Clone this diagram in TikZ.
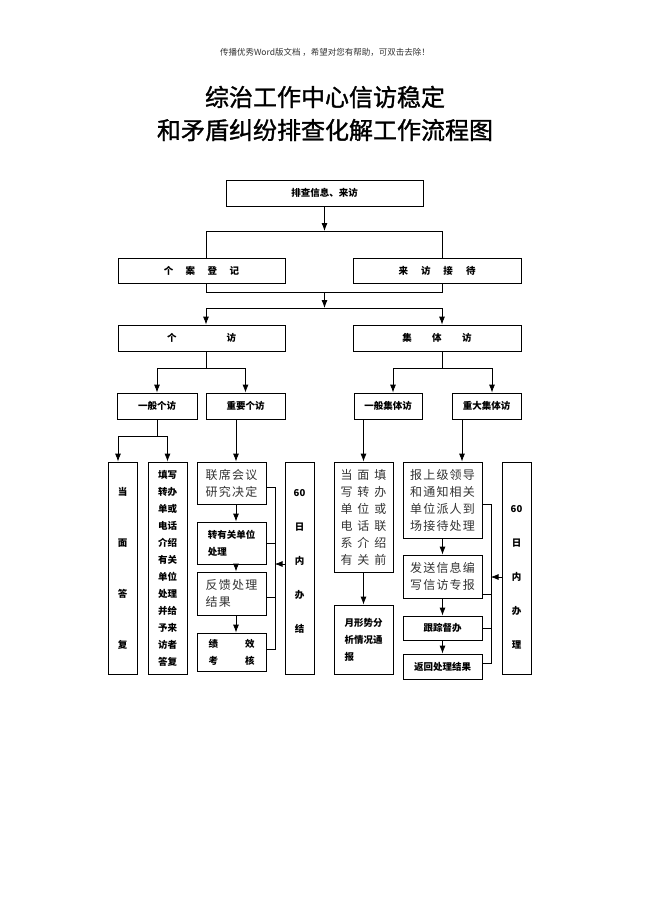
\documentclass[tikz,border=0pt]{standalone}
\usepackage{fontspec}
\usetikzlibrary{arrows.meta}
\setmainfont{Noto Sans CJK SC}
\newfontfamily\titlefont{Noto Sans CJK SC}[FakeBold=1.3]
\newfontfamily\songfont{Noto Sans CJK SC}[LetterSpace=10]
\newfontfamily\songwide{Noto Sans CJK SC}[LetterSpace=40]
\newcommand{\boxbf}{\fontsize{9.5}{17}\selectfont\bfseries}
\newcommand{\songtxt}{\songfont\fontsize{12}{17}\selectfont}
\tikzset{
    box/.style={draw,line width=0.8pt,inner sep=0pt},
    bt/.style={font=\boxbf,align=center},
    song/.style={font=\songtxt,align=left,text=black!80},
}
\begin{document}
\begin{tikzpicture}[x=1pt,y=-1pt,line width=0.8pt,>={Latex[length=8pt,width=6pt]}]
        \useasboundingbox (0,0) rectangle (650,920);
        %% header and title
        \node[font=\fontsize{8.5}{10}\selectfont,text=black!80] (wm) at (325,52) {传播优秀Word版文档 ，希望对您有帮助，可双击去除！};
        \node[font=\titlefont\fontsize{24}{33}\selectfont,align=center] (title) at (325,113.5) {综治工作中心信访稳定\\和矛盾纠纷排查化解工作流程图};
        %% upper boxes
        \node[box,bt,minimum width=197pt,minimum height=26pt] (paicha) at (324.5,193) {排查信息、来访};
        \node[box,bt,minimum width=167pt,minimum height=25pt] (dengji) at (201.5,270.5) {个\hspace{12.5pt}案\hspace{12.5pt}登\hspace{12.5pt}记};
        \node[box,bt,minimum width=168pt,minimum height=25pt] (jiedai) at (437,270.5) {来\hspace{13pt}访\hspace{13pt}接\hspace{13pt}待};
        \node[box,bt,minimum width=167pt,minimum height=26pt] (gefang) at (201.5,338) {个\hspace{50pt}访};
        \node[box,bt,minimum width=168pt,minimum height=26pt] (jiti) at (437,338) {集\hspace{20.5pt}体\hspace{20.5pt}访};
        \node[box,bt,minimum width=80pt,minimum height=26pt] (yiban) at (157,406) {一般个访};
        \node[box,bt,minimum width=79pt,minimum height=26pt] (zhongyao) at (245.5,406) {重要个访};
        \node[box,bt,minimum width=68pt,minimum height=26pt] (yibanjiti) at (388,406) {一般集体访};
        \node[box,bt,minimum width=69pt,minimum height=26pt] (zhongda) at (486.5,406) {重大集体访};
        %% individual visits
        \node[box,bt,font=\fontsize{9.5}{51}\selectfont\bfseries,minimum width=29pt,minimum height=212pt] (dangmian) at (122.5,568) {当\\面\\答\\复};
        \node[box,bt,minimum width=39pt,minimum height=212pt] (tianxie) at (167.5,568) {填写\\转办\\单或\\电话\\介绍\\有关\\单位\\处理\\并给\\予来\\访者\\答复};
        \node[box,song,minimum width=69pt,minimum height=42pt] (lianxi) at (231.5,483) {联席会议\\研究决定};
        \node[box,bt,align=left,minimum width=69pt,minimum height=42pt] (zhuan) at (231.5,543) {转有关单位\\处理};
        \node[box,song,minimum width=69pt,minimum height=43pt] (fankui) at (231.5,593.5) {反馈处理\\结果};
        \node[box,bt,minimum width=69pt,minimum height=38pt] (jixiao) at (231.5,652) {绩\hspace{27pt}效\\考\hspace{27pt}核};
        \node[box,minimum width=29pt,minimum height=212pt] (banjie) at (299.5,568) {};
        \node[bt,font=\fontsize{9.5}{34}\selectfont\bfseries] (banjie-t) at (299.5,561) {60\\日\\内\\办\\结};
        %% group visits
        \node[box,song,font=\songwide\fontsize{12}{17}\selectfont,minimum width=59pt,minimum height=110pt] (tianxieb) at (363.5,517) {当面填\\写转办\\单位或\\电话联\\系介绍\\有关前};
        \node[box,bt,align=left,minimum width=59pt,minimum height=69pt] (yuexing) at (363.5,639.5) {月形势分\\析情况通\\报};
        \node[box,song,minimum width=79pt,minimum height=76pt] (baoshang) at (442.5,500) {报上级领导\\和通知相关\\单位派人到\\场接待处理};
        \node[box,song,minimum width=79pt,minimum height=43pt] (fasong) at (442.5,576.5) {发送信息编\\写信访专报};
        \node[box,bt,minimum width=79pt,minimum height=24pt] (genzong) at (442.5,628) {跟踪督办};
        \node[box,bt,minimum width=79pt,minimum height=25pt] (fanhui) at (442.5,666.5) {返回处理结果};
        \node[box,minimum width=29pt,minimum height=212pt] (banli) at (516.5,568) {};
        \node[bt,font=\fontsize{9.5}{34}\selectfont\bfseries] (banli-t) at (516.5,577.5) {60\\日\\内\\办\\理};
        %% connectors, top part
        \coordinate (s1l) at (206,231);
        \coordinate (s1r) at (442,231);
        \coordinate (s2l) at (206,292);
        \coordinate (s2r) at (442,292);
        \coordinate (s3l) at (206,308);
        \coordinate (s3r) at (442,308);
        \draw[->] (paicha) -- (paicha |- s1l);
        \draw (dengji.north -| s1l) |- (s1r) -- (jiedai.north -| s1r);
        \draw (dengji.south -| s2l) |- (s2r) -- (jiedai.south -| s2r);
        \draw[->] (paicha.south |- s2l) -- (paicha.south |- s3l);
        \draw (s3l) -- (s3r);
        \draw[->] (s3l) -- (gefang.north -| s3l);
        \draw[->] (s3r) -- (jiti.north -| s3r);
        %% connectors, second split
        \coordinate (s4l) at (206,368);
        \coordinate (s4r) at (442,368);
        \draw (gefang.south -| s4l) -- (s4l);
        \draw[->] (s4l) -| (yiban);
        \draw[->] (s4l) -| (zhongyao);
        \draw (jiti.south -| s4r) -- (s4r);
        \draw[->] (s4r) -| ([xshift=5pt]yibanjiti.north);
        \draw[->] (s4r) -| ([xshift=5.5pt]zhongda.north);
        %% left columns
        \coordinate (s5) at (157,436);
        \coordinate (colA) at (236,0);
        \draw (yiban) -- (s5);
        \draw[->] (s5) -| ([xshift=-4.5pt]dangmian.north);
        \draw[->] (s5) -| (tianxie);
        \draw[->] (zhongyao.south -| colA) -- (lianxi.north -| colA);
        \draw[->] (lianxi.south -| colA) -- (zhuan.north -| colA);
        \draw[->] (zhuan.south -| colA) -- (fankui.north -| colA);
        \draw[->] (fankui.south -| colA) -- (jixiao.north -| colA);
        \draw ([yshift=-4pt]lianxi.east) -- ++(9,0) |- ([yshift=3pt]jixiao.east);
        \draw (zhuan.east) -- ++(9,0);
        \draw ([yshift=-3.5pt]fankui.east) -- ++(9,0);
        \draw[->] ([yshift=4pt]banjie.west) -- ++(-10,0);
        %% right columns
        \coordinate (colB) at (462,0);
        \draw[->] (yibanjiti.south -| tianxieb) -- (tianxieb);
        \draw[->] (tianxieb) -- (yuexing);
        \draw[->] (zhongda.south -| colB) -- (baoshang.north -| colB);
        \draw[->] (baoshang) -- (fasong);
        \draw[->] (fasong) -- (genzong);
        \draw[->] (genzong) -- (fanhui);
        \draw ([yshift=-4pt]baoshang.east) -- ++(9,0) |- ([yshift=3.5pt]fanhui.east);
        \draw ([yshift=-17.5pt]fasong.east) -- ++(9,0);
        \draw (genzong.east) -- ++(9,0);
        \draw[->] ([yshift=-9pt]banli.west) -- ++(-11,0);
\end{tikzpicture}
\end{document}
